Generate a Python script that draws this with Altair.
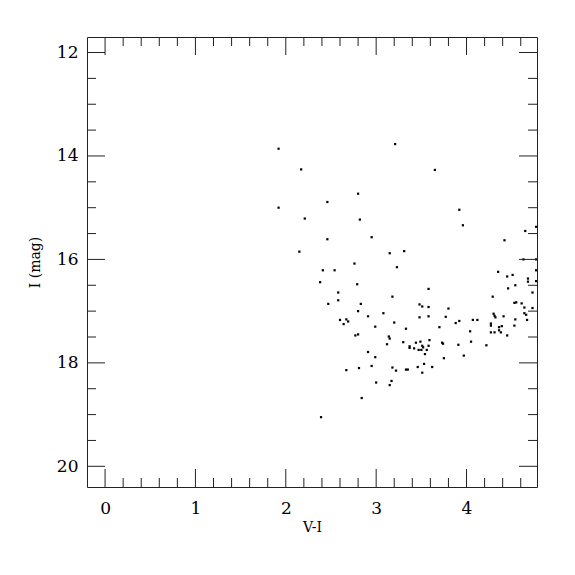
import altair as alt
import pandas as pd

vi = [1.92, 1.92, 2.15, 2.17, 3.21, 2.80, 2.46, 2.21, 2.82, 2.46, 2.95, 3.15, 3.31, 2.76, 3.23, 2.41, 2.54,
      3.65, 3.92, 3.96, 4.77, 4.65, 4.42, 4.63, 4.77, 4.77, 4.35, 4.45, 4.51, 4.68,
      2.38, 2.79, 2.58, 3.18, 2.58, 2.47, 2.83, 3.48, 2.80, 3.08, 2.91, 3.48, 2.60, 2.67, 2.69, 3.20,
      2.64, 2.99, 3.33, 3.14, 3.15, 2.77, 2.80, 3.30, 3.12, 3.44, 3.37, 3.37, 3.42, 3.47, 2.91, 2.99,
      2.95, 2.67, 2.81, 3.18, 3.22, 3.33, 3.35, 3.46, 3.00, 3.17, 3.15, 2.84, 2.39,
      3.58, 4.46, 4.54, 4.68, 4.77, 4.29, 4.73, 3.51, 3.58, 3.80, 4.53, 4.55, 4.61, 4.64, 4.73,
      3.58, 3.77, 4.30, 4.31, 4.32, 4.41, 4.64, 4.66, 4.54, 4.67, 3.88, 3.92, 4.07, 4.12, 4.27, 4.27,
      4.39, 4.36, 3.70, 4.53, 4.04, 4.27, 4.31, 4.36, 4.38, 4.45, 3.49, 3.51, 3.52, 3.59, 3.58, 3.50,
      3.56, 3.54, 3.73, 3.74, 3.91, 4.05, 4.22, 3.75, 3.97, 3.53, 3.62, 3.51]
imag = [13.86, 15.00, 15.85, 14.26, 13.77, 14.73, 14.89, 15.21, 15.23, 15.61, 15.57, 15.88, 15.84, 16.08, 16.15, 16.21, 16.21,
        14.27, 15.04, 15.34, 15.37, 15.45, 15.63, 16.00, 16.00, 16.21, 16.24, 16.33, 16.30, 16.37,
        16.44, 16.48, 16.64, 16.72, 16.79, 16.86, 16.86, 16.87, 17.00, 17.04, 17.10, 17.12, 17.17, 17.16, 17.20, 17.22,
        17.25, 17.30, 17.34, 17.49, 17.53, 17.47, 17.45, 17.60, 17.64, 17.61, 17.68, 17.71, 17.72, 17.75, 17.79, 17.89,
        18.06, 18.14, 18.10, 18.09, 18.15, 18.13, 18.13, 18.08, 18.38, 18.35, 18.43, 18.68, 19.05,
        16.57, 16.56, 16.50, 16.43, 16.42, 16.72, 16.64, 16.91, 16.92, 16.95, 16.84, 16.83, 16.85, 16.93, 16.94,
        17.10, 17.11, 17.05, 17.09, 17.12, 17.10, 17.04, 17.07, 17.16, 17.17, 17.23, 17.19, 17.17, 17.17, 17.24, 17.28,
        17.29, 17.31, 17.31, 17.28, 17.39, 17.41, 17.41, 17.37, 17.41, 17.47, 17.59, 17.67, 17.70, 17.56, 17.67, 17.75,
        17.75, 17.83, 17.61, 17.63, 17.65, 17.59, 17.66, 17.91, 17.86, 18.02, 18.08, 18.19]

x_major = [0, 1, 2, 3, 4]
x_minor = [0.2, 0.4, 0.6, 0.8, 1.2, 1.4, 1.6, 1.8, 2.2, 2.4, 2.6, 2.8, 3.2, 3.4, 3.6, 3.8, 4.2, 4.4, 4.6]
y_major = [12, 14, 16, 18, 20]
y_minor = [12.5, 13, 13.5, 14.5, 15, 15.5, 16.5, 17, 17.5, 18.5, 19, 19.5]

W, H = 450, 450
MAJ, MIN = 18, 9
FONT = "DejaVu Serif"
INK = "#222222"

xscale = alt.Scale(domain=[-0.2, 4.78], nice=False, zero=False)
yscale = alt.Scale(domain=[11.7, 20.4], nice=False, zero=False, reverse=True)

xaxis = alt.Axis(values=x_major, format="d", ticks=False, domain=False, grid=False,
                 labelFont=FONT, labelFontSize=17, labelColor="black", labelPadding=13,
                 titleFont=FONT, titleFontSize=14, titleFontWeight="normal",
                 titleColor="black", titlePadding=4)
yaxis = alt.Axis(values=y_major, format="d", ticks=False, domain=False, grid=False,
                 labelFont=FONT, labelFontSize=17, labelColor="black", labelPadding=9,
                 titleFont=FONT, titleFontSize=14, titleFontWeight="normal",
                 titleColor="black", titlePadding=14)

pts = pd.DataFrame({"vi": vi, "imag": imag})

points = alt.Chart(pts).mark_square(size=5, color="black", opacity=1, clip=True).encode(
    x=alt.X("vi:Q", scale=xscale, title="V-I", axis=xaxis),
    y=alt.Y("imag:Q", scale=yscale, title="I (mag)", axis=yaxis),
)


def xticks(vals, length):
    d = pd.DataFrame({"v": vals})
    base = alt.Chart(d).mark_rule(color=INK, strokeWidth=1)
    X = alt.X("v:Q", scale=xscale, title="V-I", axis=xaxis)
    bottom = base.encode(x=X, y=alt.value(H), y2=alt.value(H - length))
    top = base.encode(x=X, y=alt.value(0), y2=alt.value(length))
    return [bottom, top]


def yticks(vals, length):
    d = pd.DataFrame({"v": vals})
    base = alt.Chart(d).mark_rule(color=INK, strokeWidth=1)
    Y = alt.Y("v:Q", scale=yscale, title="I (mag)", axis=yaxis)
    left = base.encode(y=Y, x=alt.value(0), x2=alt.value(length))
    right = base.encode(y=Y, x=alt.value(W), x2=alt.value(W - length))
    return [left, right]


layers = [points] + xticks(x_major, MAJ) + xticks(x_minor, MIN) + yticks(y_major, MAJ) + yticks(y_minor, MIN)

chart = alt.layer(*layers).properties(
    width=W, height=H,
    autosize=alt.AutoSizeParams(type="none"),
    padding={"left": 79, "top": 29, "right": 30, "bottom": 80},
    background="white",
).configure_view(stroke=INK, strokeWidth=1)

chart.save("out.html", embed_options={"renderer": "svg", "actions": False})
